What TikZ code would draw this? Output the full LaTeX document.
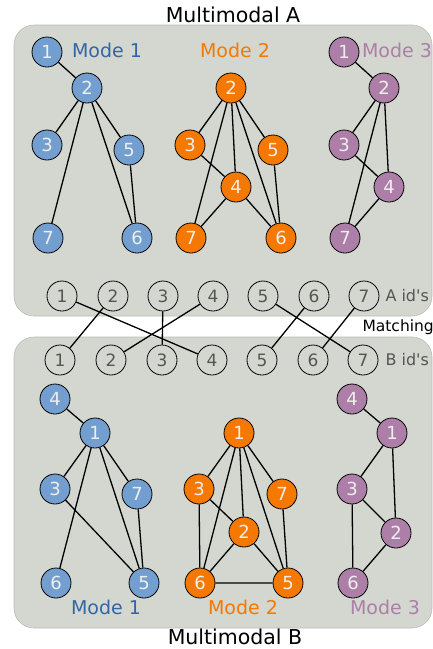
\documentclass[tikz,border=0pt]{standalone}
\usepackage{fontspec}
\setmainfont{DejaVu Sans}[Ligatures=TeXOff]
\definecolor{bgbox}{HTML}{D3D7CF}
\definecolor{boxedge}{HTML}{BABDB6}
\definecolor{cblue}{HTML}{729FCF}
\definecolor{cblueT}{HTML}{3465A4}
\definecolor{corange}{HTML}{F57900}
\definecolor{cplum}{HTML}{AD7FA8}
\definecolor{idtext}{HTML}{555753}
\definecolor{nodetext}{HTML}{EEEEEC}
\tikzset{
  gn/.style={circle, draw=black, line width=0.8pt, minimum size=30pt, inner sep=0pt,
    font=\fontsize{18}{18}\selectfont, text=nodetext},
  bn/.style={gn, fill=cblue},
  on/.style={gn, fill=corange},
  pn/.style={gn, fill=cplum},
  idn/.style={circle, draw=black, line width=0.8pt, minimum size=30pt, inner sep=0pt,
    font=\fontsize{17}{17}\selectfont, text=idtext},
  ed/.style={line width=1.3pt, black},
  boxA/.style={fill=bgbox, draw=boxedge, line width=0.6pt, rounded corners=20pt},
  modelab/.style={font=\fontsize{19}{19}\selectfont},
  title/.style={font=\fontsize{20.5}{20.5}\selectfont, text=black},
  idlab/.style={font=\fontsize{16}{16}\selectfont, text=idtext, anchor=west},
}
\begin{document}
\begin{tikzpicture}[x=1pt,y=-1pt]
\useasboundingbox (0,0) rectangle (433,649);
% boxes
\path[boxA] (14,25) rectangle (432,316);
\path[boxA] (14,337) rectangle (432,628);
% titles
\node[title] (tA) at (233,15) {Multimodal A};
\node[title] (tB) at (235,637) {Multimodal B};
% mode labels top
\node[modelab, text=cblueT] (mA1) at (107,50) {Mode 1};
\node[modelab, text=corange] (mA2) at (235,50) {Mode 2};
\node[modelab, text=cplum] (mA3) at (397,50) {Mode 3};
% mode labels bottom
\node[modelab, text=cblueT] (mB1) at (106,607) {Mode 1};
\node[modelab, text=corange] (mB2) at (243,607) {Mode 2};
\node[modelab, text=cplum] (mB3) at (385,607) {Mode 3};

% ---- Top mode 1
\node[bn] (a11) at (47,52) {1};
\node[bn] (a12) at (87,88) {2};
\node[bn] (a13) at (47,145) {3};
\node[bn] (a15) at (129,150) {5};
\node[bn] (a17) at (48,238) {7};
\node[bn] (a16) at (137,238) {6};
\draw[ed] (a11)--(a12) (a12)--(a13) (a12)--(a17) (a12)--(a16) (a12)--(a15) (a15)--(a16);
% ---- Top mode 2
\node[on] (a22) at (231,88) {2};
\node[on] (a23) at (190,145) {3};
\node[on] (a25) at (273,150) {5};
\node[on] (a24) at (236,187) {4};
\node[on] (a27) at (191,238) {7};
\node[on] (a26) at (281,238) {6};
\draw[ed] (a22)--(a23) (a22)--(a27) (a22)--(a24) (a22)--(a26) (a22)--(a25)
  (a23)--(a24) (a24)--(a27) (a24)--(a26) (a25)--(a26);
% ---- Top mode 3
\node[pn] (a31) at (344,52) {1};
\node[pn] (a32) at (384,88) {2};
\node[pn] (a33) at (344,145) {3};
\node[pn] (a34) at (389,187) {4};
\node[pn] (a37) at (345,238) {7};
\draw[ed] (a31)--(a32) (a32)--(a33) (a32)--(a37) (a32)--(a34) (a33)--(a34) (a34)--(a37);

% ---- ids
\foreach \i/\x in {1/62,2/113,3/163,4/213,5/263,6/314,7/364}
  \node[idn] (ia\i) at (\x,296) {\i};
\foreach \i/\x in {1/60,2/111,3/162,4/212,5/262,6/313,7/363}
  \node[idn] (ib\i) at (\x,360) {\i};
\node[idlab] (la) at (382,296) {A id's};
\node[idlab] (lb) at (382,360) {B id's};
\node[font=\fontsize{15.5}{15.5}\selectfont, anchor=west] (mt) at (359,327) {Matching};
\draw[ed] (ia1)--(ib4) (ia2)--(ib1) (ia3)--(ib3) (ia4)--(ib2) (ia5)--(ib7) (ia6)--(ib5) (ia7)--(ib6);

% ---- Bottom mode 1
\node[bn] (b14) at (55,399) {4};
\node[bn] (b11) at (95,433) {1};
\node[bn] (b13) at (55,489) {3};
\node[bn] (b17) at (137,494) {7};
\node[bn] (b16) at (56,583) {6};
\node[bn] (b15) at (144,583) {5};
\draw[ed] (b14)--(b11) (b11)--(b13) (b11)--(b16) (b11)--(b15) (b11)--(b17) (b13)--(b15) (b17)--(b15);
% ---- Bottom mode 2
\node[on] (b21) at (239,433) {1};
\node[on] (b23) at (199,489) {3};
\node[on] (b27) at (282,494) {7};
\node[on] (b22) at (244,532) {2};
\node[on] (b26) at (200,583) {6};
\node[on] (b25) at (288,583) {5};
\draw[ed] (b21)--(b23) (b21)--(b26) (b21)--(b22) (b21)--(b25) (b21)--(b27)
  (b23)--(b26) (b23)--(b22) (b27)--(b25) (b22)--(b26) (b22)--(b25) (b26)--(b25);
% ---- Bottom mode 3
\node[pn] (b34) at (352,399) {4};
\node[pn] (b31) at (392,433) {1};
\node[pn] (b33) at (352,489) {3};
\node[pn] (b32) at (396,533) {2};
\node[pn] (b36) at (353,583) {6};
\draw[ed] (b34)--(b31) (b31)--(b33) (b31)--(b32) (b33)--(b32) (b33)--(b36) (b32)--(b36);
\end{tikzpicture}
\end{document}
